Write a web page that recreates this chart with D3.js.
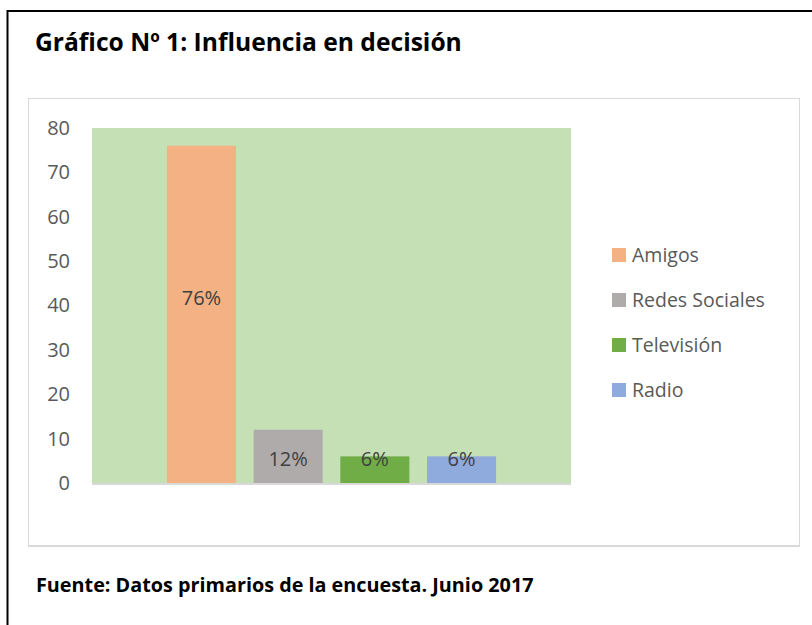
<!DOCTYPE html>
<html>
<head>
<meta charset="utf-8">
<script src="https://cdn.jsdelivr.net/npm/d3@7"></script>
<style>
  body { margin: 0; background: #fff; }
  svg { display: block; }
</style>
</head>
<body>
<svg id="chart" width="812" height="625"></svg>
<script>
// data
var series = ['Amigos', 'Redes Sociales', 'Televisión', 'Radio'];
var values = [76, 12, 6, 6];
var labels = ['76%', '12%', '6%', '6%'];
var colors = ['#f4b183', '#afabab', '#70ad47', '#8faadc'];
var yTicks = [0, 10, 20, 30, 40, 50, 60, 70, 80];

var titleText = 'Gráfico Nº 1: Influencia en decisión';
var sourceText = 'Fuente: Datos primarios de la encuesta. Junio 2017';

var svg = d3.select('#chart');
var font = '"Open Sans", Lato, sans-serif';

// shrink/grow font so the text spans about the same width as in the picture
var fitWidth = function(sel, w) {
	var fs = +sel.attr('font-size');
	var cur = sel.node().getComputedTextLength();
	sel.attr('font-size', (fs * w / cur).toFixed(2));
}

// outer black box (open on right and bottom, page cut)
svg.append('path')
	.attr('d', 'M7.5,640 L7.5,11 L830,11')
	.attr('fill', 'none')
	.attr('stroke', '#000')
	.attr('stroke-width', 2);

var title = svg.append('text')
	.attr('x', 35)
	.attr('y', 51)
	.attr('font-family', font)
	.attr('font-weight', 'bold')
	.attr('font-size', 22)
	.attr('fill', '#000')
	.text(titleText);
fitWidth(title, 427);

// chart frame
svg.append('rect')
	.attr('x', 28.5)
	.attr('y', 98.5)
	.attr('width', 771)
	.attr('height', 447)
	.attr('fill', '#fff')
	.attr('stroke', '#d9d9d9')
	.attr('stroke-width', 1);
svg.append('line')
	.attr('x1', 28).attr('x2', 800)
	.attr('y1', 546).attr('y2', 546)
	.attr('stroke', '#d9d9d9')
	.attr('stroke-width', 2);

var plotLeft = 92, plotRight = 571, plotTop = 128, plotBottom = 483;

var x = d3.scaleBand()
	.domain(series)
	.range([plotLeft, plotRight])
	.paddingInner(0.204)
	.paddingOuter(0.864);

var y = d3.scaleLinear()
	.domain([0, 80])
	.range([plotBottom, plotTop]);

// plot area fill
svg.append('rect')
	.attr('x', plotLeft)
	.attr('y', y(80))
	.attr('width', plotRight - plotLeft)
	.attr('height', y(0) - y(80))
	.attr('fill', '#c5e0b4');

var yaxis = d3.axisLeft(y)
	.tickValues(yTicks)
	.tickSize(0)
	.tickPadding(0);

var gy = svg.append('g')
	.attr('transform', 'translate(70,0)')
	.call(yaxis);
gy.select('.domain').remove();
gy.selectAll('text')
	.attr('font-family', font)
	.attr('font-size', 20)
	.attr('fill', '#595959');

svg.selectAll('.bar')
	.data(series)
	.enter()
	.append('rect')
	.attr('class', 'bar')
	.attr('x', d => x(d))
	.attr('y', (d, i) => y(values[i]))
	.attr('width', x.bandwidth())
	.attr('height', (d, i) => y(0) - y(values[i]))
	.attr('fill', (d, i) => colors[i]);

// base line
svg.append('line')
	.attr('x1', plotLeft).attr('x2', plotRight)
	.attr('y1', y(0) + 1).attr('y2', y(0) + 1)
	.attr('stroke', '#d9d9d9')
	.attr('stroke-width', 2);

svg.selectAll('.lbl')
	.data(series)
	.enter()
	.append('text')
	.attr('class', 'lbl')
	.attr('x', d => x(d) + x.bandwidth() / 2)
	.attr('y', (d, i) => values[i] > 20 ? y(values[i] * 0.55) : y(0) - 24)
	.attr('dy', '0.36em')
	.attr('text-anchor', 'middle')
	.attr('font-family', font)
	.attr('font-size', 20)
	.attr('fill', '#404040')
	.text((d, i) => labels[i]);

// legend
var leg = svg.selectAll('.leg')
	.data(series)
	.enter()
	.append('g')
	.attr('class', 'leg')
	.attr('transform', (d, i) => 'translate(612,' + (255 + i * 45) + ')');
leg.append('rect')
	.attr('x', 0)
	.attr('y', -7)
	.attr('width', 14)
	.attr('height', 14)
	.attr('fill', (d, i) => colors[i]);
leg.append('text')
	.attr('x', 20)
	.attr('y', 0)
	.attr('dy', '0.36em')
	.attr('font-family', font)
	.attr('font-size', 19.5)
	.attr('fill', '#595959')
	.text(d => d);

var src = svg.append('text')
	.attr('x', 36)
	.attr('y', 592)
	.attr('font-family', font)
	.attr('font-weight', 'bold')
	.attr('font-size', 17)
	.attr('fill', '#000')
	.text(sourceText);
fitWidth(src, 498);
</script>
</body>
</html>
